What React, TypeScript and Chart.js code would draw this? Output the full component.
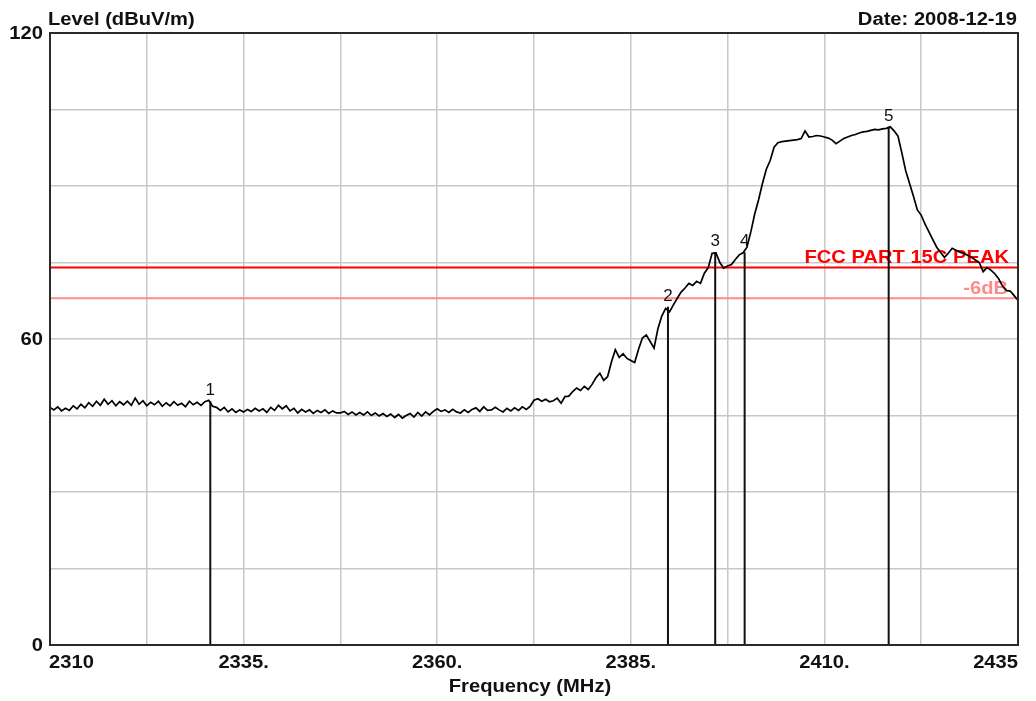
import React, { useEffect, useRef } from 'react';
import { Chart, registerables } from 'chart.js';

Chart.register(...registerables);

// Sweep grid
const FREQ_START = 2310;
const FREQ_STEP = 0.5;

// Measured level (dBuV/m), one value per 0.5 MHz from 2310 to 2435 MHz
const levels = [
  46.6, 46.1, 46.7, 45.9, 46.4, 46.0, 46.9, 46.3, 47.2, 46.5,
  47.5, 46.8, 47.8, 47.0, 48.2, 47.2, 47.9, 46.9, 47.7, 47.1,
  47.8, 47.0, 48.4, 47.2, 47.9, 46.9, 47.6, 47.1, 47.8, 46.8,
  47.5, 46.9, 47.7, 47.0, 47.4, 46.7, 47.8, 47.1, 47.6, 47.0,
  47.7, 48.0, 46.8, 46.6, 46.0, 46.6, 45.7, 46.3, 45.6, 46.1,
  45.7, 46.2, 45.8, 46.4, 45.9, 46.3, 45.6, 46.6, 46.0, 47.0,
  46.3, 46.9, 45.9, 46.4, 45.5, 46.2, 45.7, 46.1, 45.4, 46.0,
  45.6, 46.1, 45.4, 45.9, 45.5, 45.5, 45.8, 45.2, 45.7, 45.1,
  45.6, 45.1, 45.7, 45.0, 45.5, 44.9, 45.4, 44.8, 45.3, 44.6,
  45.2, 44.5, 45.0, 45.4, 44.7, 45.6, 44.9, 45.7, 45.1, 45.8,
  46.3, 45.8, 46.1, 45.6, 46.2, 45.7, 45.5, 46.1, 45.6, 46.2,
  46.5, 45.8, 46.7, 46.0, 46.1, 46.6, 46.1, 45.7, 46.4, 45.9,
  46.5, 46.0, 46.7, 46.2, 46.8, 48.0, 48.3, 47.8, 48.2, 47.7,
  47.9, 48.4, 47.4, 48.7, 48.8, 49.7, 50.4, 49.9, 50.7, 50.1,
  51.1, 52.4, 53.3, 51.9, 52.6, 55.5, 57.9, 56.4, 57.1, 56.2,
  55.8, 55.4, 58.0, 60.2, 60.8, 59.5, 58.2, 62.0, 64.5, 66.0,
  65.3, 66.7, 68.0, 69.2, 70.0, 70.9, 70.5, 71.3, 70.9, 72.9,
  74.0, 76.8, 76.9, 75.0, 73.9, 74.3, 74.6, 75.6, 76.5, 76.9,
  78.0, 81.0, 84.5, 87.3, 90.5, 93.3, 95.0, 97.6, 98.5, 98.7,
  98.8, 98.9, 99.0, 99.1, 99.3, 100.8, 99.6, 99.7, 99.9, 99.8,
  99.6, 99.4, 99.0, 98.3, 98.8, 99.3, 99.6, 99.9, 100.1, 100.4,
  100.6, 100.7, 100.9, 101.1, 101.0, 101.2, 101.3, 101.6, 100.8, 99.8,
  96.5, 93.0, 90.5, 88.0, 85.3, 84.3, 82.5, 81.0, 79.5, 78.0,
  77.0, 76.0, 76.8, 77.8, 77.4, 77.0, 76.8, 76.4, 76.0, 75.5,
  75.0, 73.2, 74.0, 73.5, 72.8, 71.8, 70.4, 69.5, 69.4, 68.5,
  67.6,
];

// Markers
const markerFreqs = [2330.7, 2389.8, 2395.9, 2399.7, 2418.3];
const markerLevels = [47.8, 66.3, 77.0, 77.0, 101.6];
const markerLabels = ['1', '2', '3', '4', '5'];

// Limit lines
const limitLevel = 74;
const limitLabel = 'FCC PART 15C PEAK';
const marginLevel = 68;
const marginLabel = '-6dB';

// Axes
const xMin = 2310;
const xMax = 2435;
const xGridStep = 12.5;
const yMin = 0;
const yMax = 120;
const yGridStep = 15;
const xTickValues = [2310, 2335, 2360, 2385, 2410, 2435];
const xTickLabels = ['2310', '2335.', '2360.', '2385.', '2410.', '2435'];
const yTickValues = [0, 60, 120];
const yTickLabels = ['0', '60', '120'];
const yTitle = 'Level (dBuV/m)';
const xTitle = 'Frequency (MHz)';
const dateText = 'Date: 2008-12-19';

const FAMILY = '"Liberation Sans", Arial, sans-serif';
const BOLD = `bold 18px ${FAMILY}`;
const STRETCH = 1.12;

function drawText(
  ctx: CanvasRenderingContext2D,
  text: string,
  x: number,
  y: number,
  align: 'left' | 'right' | 'center',
  font: string,
  color: string,
  baseline: CanvasTextBaseline,
  sx: number
) {
  ctx.save();
  ctx.font = font;
  ctx.fillStyle = color;
  ctx.textBaseline = baseline;
  ctx.textAlign = 'left';
  const w = ctx.measureText(text).width * sx;
  const left = align === 'left' ? x : align === 'right' ? x - w : x - w / 2;
  ctx.translate(left, y);
  ctx.scale(sx, 1);
  ctx.fillText(text, 0, 0);
  ctx.restore();
}

const decorPlugin = {
  id: 'decor',
  beforeDatasetsDraw(chart: any) {
    const ctx = chart.ctx as CanvasRenderingContext2D;
    const area = chart.chartArea;
    const ys = chart.scales.y;
    drawText(ctx, limitLabel, area.right - 9, ys.getPixelForValue(limitLevel) - 5, 'right', BOLD, '#ff0000', 'alphabetic', STRETCH);
    drawText(ctx, marginLabel, area.right - 10, ys.getPixelForValue(marginLevel) - 4, 'right', BOLD, '#ff8a8a', 'alphabetic', STRETCH);
  },
  afterDatasetsDraw(chart: any) {
    const ctx = chart.ctx as CanvasRenderingContext2D;
    const area = chart.chartArea;
    const xs = chart.scales.x;
    const ys = chart.scales.y;

    // frame
    ctx.save();
    ctx.strokeStyle = '#2a2a2a';
    ctx.lineWidth = 2;
    ctx.strokeRect(area.left, area.top, area.right - area.left, area.bottom - area.top);
    ctx.restore();

    // marker labels
    markerFreqs.forEach((f, i) => {
      drawText(ctx, markerLabels[i], xs.getPixelForValue(f), ys.getPixelForValue(markerLevels[i]) - 6, 'center', `17px ${FAMILY}`, '#111', 'alphabetic', 1);
    });

    // y tick labels
    yTickValues.forEach((v, i) => {
      drawText(ctx, yTickLabels[i], area.left - 7, ys.getPixelForValue(v) + 1, 'right', BOLD, '#111', 'middle', STRETCH);
    });

    // x tick labels
    xTickValues.forEach((v, i) => {
      const px = xs.getPixelForValue(v);
      let align: 'left' | 'right' | 'center' = 'center';
      let x = px;
      if (i === 0) { align = 'left'; x = px - 1; }
      if (i === xTickValues.length - 1) { align = 'right'; x = px; }
      drawText(ctx, xTickLabels[i], x, area.bottom + 23, align, BOLD, '#111', 'alphabetic', STRETCH);
    });

    // titles
    drawText(ctx, yTitle, area.left - 2, 25, 'left', BOLD, '#111', 'alphabetic', STRETCH);
    drawText(ctx, dateText, area.right - 1, 25, 'right', BOLD, '#111', 'alphabetic', STRETCH);
    drawText(ctx, xTitle, (area.left + area.right) / 2 - 4, area.bottom + 47, 'center', BOLD, '#111', 'alphabetic', STRETCH);
  },
};

export default function App() {
  const canvasRef = useRef<HTMLCanvasElement | null>(null);

  useEffect(() => {
    const canvas = canvasRef.current;
    if (!canvas) return;

    const trace = levels.map((v, i) => ({ x: FREQ_START + i * FREQ_STEP, y: v }));
    const markerSets = markerFreqs.map((f, i) => ({
      data: [{ x: f, y: 0 }, { x: f, y: markerLevels[i] }],
      borderColor: '#111',
      borderWidth: 2,
      pointRadius: 0,
    }));

    const chart = new Chart(canvas, {
      type: 'line',
      data: {
        datasets: [
          {
            data: trace,
            borderColor: '#000',
            borderWidth: 1.7,
            pointRadius: 0,
            tension: 0,
          },
          ...markerSets,
          {
            data: [{ x: xMin, y: limitLevel }, { x: xMax, y: limitLevel }],
            borderColor: '#ff0000',
            borderWidth: 2,
            pointRadius: 0,
          },
          {
            data: [{ x: xMin, y: marginLevel }, { x: xMax, y: marginLevel }],
            borderColor: '#ff8a8a',
            borderWidth: 2,
            pointRadius: 0,
          },
        ],
      },
      options: {
        animation: false,
        responsive: false,
        maintainAspectRatio: false,
        layout: { padding: { left: 50, top: 33, right: 18, bottom: 56 } },
        plugins: { legend: { display: false }, tooltip: { enabled: false } },
        scales: {
          x: {
            type: 'linear',
            min: xMin,
            max: xMax,
            ticks: { display: false, stepSize: xGridStep },
            grid: { color: '#c8c8c8', lineWidth: 1.5, drawTicks: false },
            border: { display: false },
          },
          y: {
            type: 'linear',
            min: yMin,
            max: yMax,
            ticks: { display: false, stepSize: yGridStep },
            grid: { color: '#c8c8c8', lineWidth: 1.5, drawTicks: false },
            border: { display: false },
          },
        },
      },
      plugins: [decorPlugin],
    });

    return () => chart.destroy();
  }, []);

  return (
    <div style={{ position: 'fixed', left: 0, top: 0, width: 1036, height: 701, background: '#fff' }}>
      <canvas ref={canvasRef} width={1036} height={701} style={{ display: 'block' }} />
    </div>
  );
}
